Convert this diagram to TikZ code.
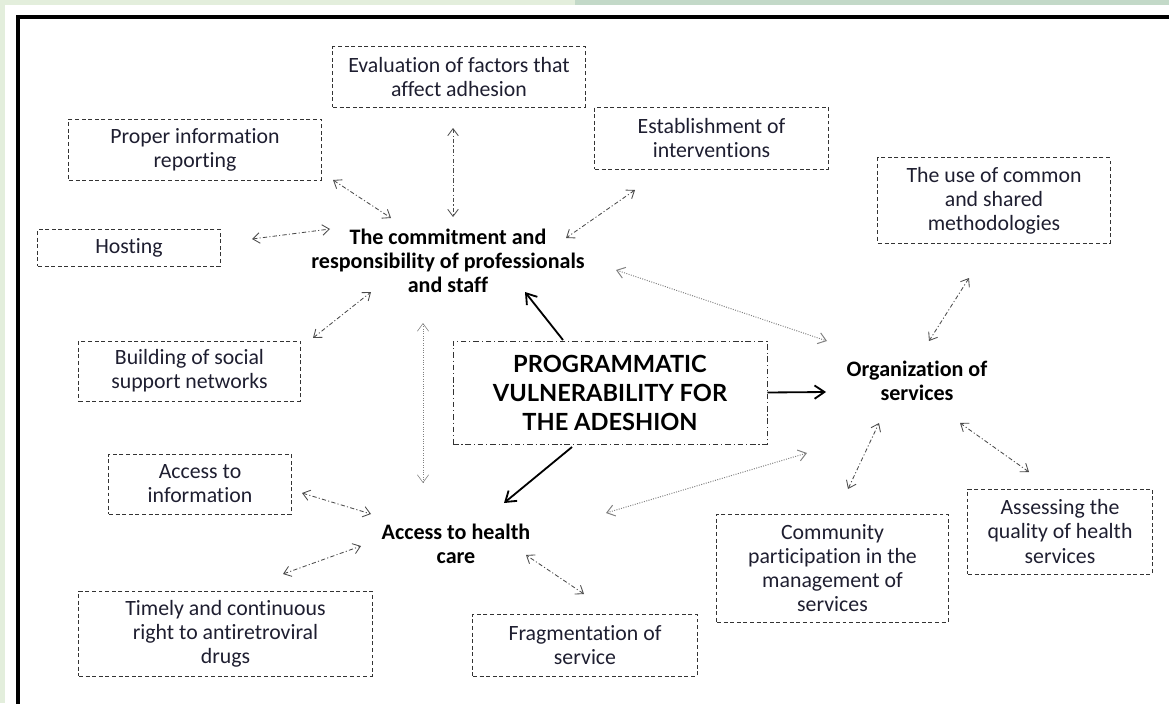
\documentclass[tikz,border=0pt]{standalone}
\usepackage{fontspec}
\setmainfont{Carlito}[Ligatures={NoCommon}]
\newfontfamily\latofont{Lato}
\usetikzlibrary{arrows.meta}
\definecolor{stripgreen}{HTML}{E3EEDC}
\definecolor{stripteal}{HTML}{C3D9C8}
\definecolor{inkgray}{HTML}{4A4A4A}
\definecolor{textink}{HTML}{1E1E30}
\tikzset{
    factor-box/.style = {draw=black!80, dash pattern=on 2.8pt off 1.9pt, line width=0.7pt, align=center, text=textink, font=\fontsize{15.5}{17.1}\selectfont},
    hub/.style = {align=center, text=black, font=\bfseries\fontsize{15.7}{17.1}\selectfont},
    core-box/.style = {draw=black!80, dash pattern=on 4pt off 2pt on 0.8pt off 2pt, line width=0.6pt, align=center, text=black, font=\latofont\bfseries\fontsize{16.8}{20.6}\selectfont},
    link/.style = {draw=inkgray, line width=0.6pt, dash pattern=on 3pt off 1.6pt on 0.8pt off 1.6pt, {Straight Barb[length=5pt,width=7.5pt]}-{Straight Barb[length=5pt,width=7.5pt]}},
    weak-link/.style = {draw=gray, line width=0.7pt, densely dotted, {Straight Barb[length=5.5pt,width=8pt]}-{Straight Barb[length=5.5pt,width=8pt]}},
    strong-link/.style = {draw=black, line width=1.3pt, -{Straight Barb[length=7pt,width=9.5pt]}},
}

\begin{document}
\begin{tikzpicture}[x=0.025cm, y=-0.025cm]
\useasboundingbox (0,0) rectangle (1169,703);
% page strips and frame
\fill[stripgreen] (0,0) rectangle (575,5);
\fill[stripteal] (575,0) rectangle (1169,5);
\fill[stripgreen] (0,0) rectangle (5,703);
\draw[line width=3pt] (18,720) -- (18,17) -- (1190,17);

% factors
\node[factor-box, minimum width=6.3cm, minimum height=1.5cm] (evaluation) at (459,77) {Evaluation of factors that\\affect adhesion};
\node[factor-box, minimum width=6.3cm, minimum height=1.525cm] (reporting) at (195,149.5) {Proper information\\reporting};
\node[factor-box, minimum width=5.825cm, minimum height=1.55cm] (interventions) at (711.5,138) {Establishment of\\interventions};
\node[factor-box, minimum width=5.8cm, minimum height=2.125cm] (methodologies) at (994,200.5) {The use of common\\and shared\\methodologies};
\node[factor-box, minimum width=4.55cm, minimum height=0.925cm] (hosting) at (129,247.5) {Hosting};
\node[factor-box, minimum width=5.525cm, minimum height=1.5cm] (networks) at (189.5,371) {Building of social\\support networks};
\node[factor-box, minimum width=4.55cm, minimum height=1.5cm] (information) at (200,484) {Access to\\information};
\node[factor-box, minimum width=5.775cm, minimum height=2.7cm] (participation) at (832.5,568) {Community\\participation in the\\management of\\services};
\node[factor-box, minimum width=4.6cm, minimum height=2.125cm] (quality) at (1060,531.5) {Assessing the\\quality of health\\services};
\node[factor-box, minimum width=7.325cm, minimum height=2.125cm] (drugs) at (225.5,633.5) {Timely and continuous\\right to antiretroviral\\drugs};
\node[factor-box, minimum width=5.6cm, minimum height=1.55cm] (fragmentation) at (585,645) {Fragmentation of\\service};

% core and hubs
\node[core-box, minimum width=7.85cm, minimum height=2.575cm] (vulnerability) at (610,392.5) {PROGRAMMATIC\\VULNERABILITY FOR\\THE ADESHION};
\node[hub] (commitment) at (448,261) {The commitment and\\responsibility of professionals\\and staff};
\node[hub] (organization) at (917,381) {Organization of\\services};
\node[hub] (healthcare) at (456,544) {Access to health\\care};

% main arrows
\draw[strong-link] ([shift={(-47,-52.5)}]vulnerability.center) -- ([shift={(77,31)}]commitment.center);
\draw[strong-link] (vulnerability.east) -- ([shift={(-91,11)}]organization.center);
\draw[strong-link] ([shift={(-38,54.5)}]vulnerability.center) -- ([shift={(48,-41)}]healthcare.center);

% between hubs
\draw[weak-link, line width=0.4pt] ([shift={(-25,62)}]commitment.center) -- ([shift={(-33,-61)}]healthcare.center);
\draw[weak-link] ([shift={(168,9)}]commitment.center) -- ([shift={(-90,-40)}]organization.center);
\draw[weak-link] ([shift={(150,-31)}]healthcare.center) -- ([shift={(-110,72)}]organization.center);

% commitment links
\draw[link] ([shift={(-6,51)}]evaluation.center) -- ([shift={(5,-44)}]commitment.center);
\draw[link] ([shift={(138,30.5)}]reporting.center) -- ([shift={(-57,-43)}]commitment.center);
\draw[link] ([shift={(123,-8.5)}]hosting.center) -- ([shift={(-118,-32)}]commitment.center);
\draw[link] ([shift={(-76.5,52)}]interventions.center) -- ([shift={(118,-23)}]commitment.center);
\draw[link] ([shift={(123.5,-33)}]networks.center) -- ([shift={(-77,31)}]commitment.center);

% organization links
\draw[link] ([shift={(-25,77.5)}]methodologies.center) -- ([shift={(12,-40)}]organization.center);
\draw[link] ([shift={(15.5,-79)}]participation.center) -- ([shift={(-38,42)}]organization.center);
\draw[link] ([shift={(-31,-59.5)}]quality.center) -- ([shift={(43,42)}]organization.center);

% health care links
\draw[link] ([shift={(102,9)}]information.center) -- ([shift={(-85,-30)}]healthcare.center);
\draw[link] ([shift={(57.5,-59.5)}]drugs.center) -- ([shift={(-95,2)}]healthcare.center);
\draw[link] ([shift={(-1,-51)}]fragmentation.center) -- ([shift={(70,11)}]healthcare.center);
\end{tikzpicture}
\end{document}
